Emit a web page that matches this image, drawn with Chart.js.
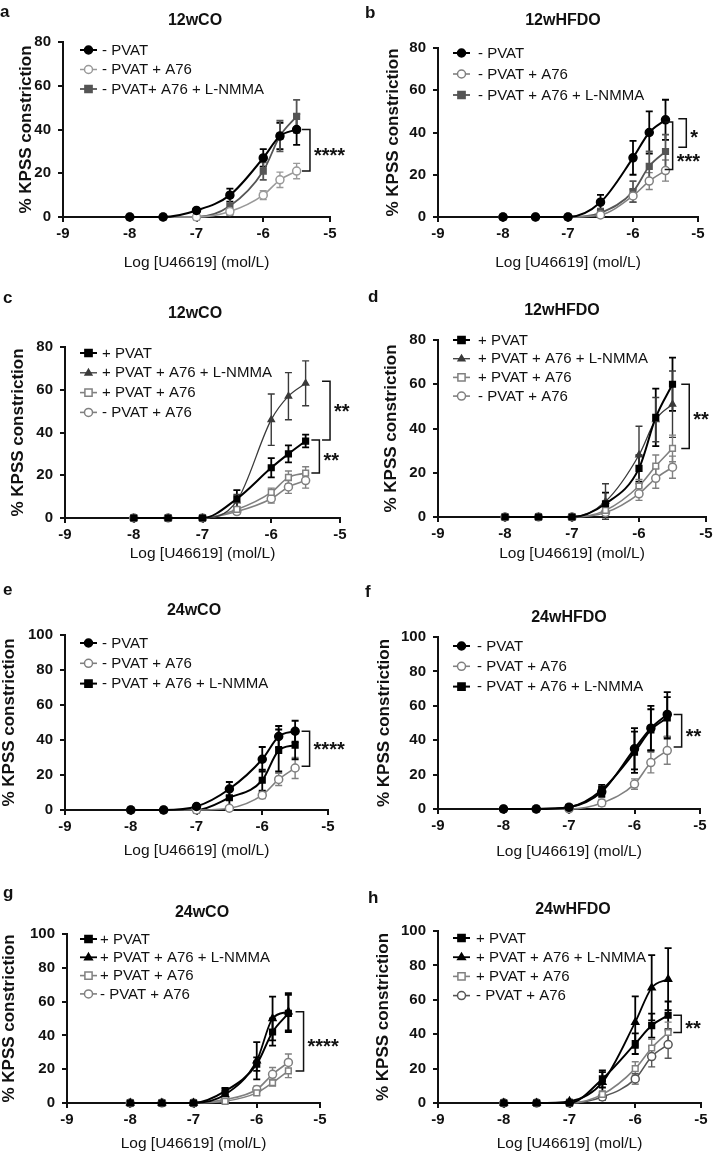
<!DOCTYPE html>
<html>
<head>
<meta charset="utf-8">
<title>U46619 concentration-response curves</title>
<script src="https://cdn.jsdelivr.net/npm/chart.js@4.4.1/dist/chart.umd.min.js"></script>
<style>
  html, body { margin: 0; padding: 0; background: #fff; }
  #figure { position: relative; width: 716px; height: 1157px; overflow: hidden; }
  #figure canvas { position: absolute; }
</style>
</head>
<body>
<div id="figure">
  <canvas id="panelA" width="358" height="290" style="left:0px;top:0px"></canvas>
  <canvas id="panelB" width="358" height="290" style="left:358px;top:0px"></canvas>
  <canvas id="panelC" width="358" height="290" style="left:0px;top:290px"></canvas>
  <canvas id="panelD" width="358" height="290" style="left:358px;top:290px"></canvas>
  <canvas id="panelE" width="358" height="290" style="left:0px;top:580px"></canvas>
  <canvas id="panelF" width="358" height="290" style="left:358px;top:580px"></canvas>
  <canvas id="panelG" width="358" height="287" style="left:0px;top:870px"></canvas>
  <canvas id="panelH" width="358" height="287" style="left:358px;top:870px"></canvas>
</div>
<script>
// values (% KPSS constriction, mean and SEM)
const doses = [-8, -7.5, -7, -6.5, -6, -5.75, -5.5];
const xTicks = [-9, -8, -7, -6, -5];
const yTicks80 = [0, 20, 40, 60, 80];
const yTicks100 = [0, 20, 40, 60, 80, 100];

const labelsA = ['- PVAT', '- PVAT + A76', '- PVAT+ A76 + L-NMMA'];
const labelsMinus = ['- PVAT', '- PVAT + A76', '- PVAT + A76 + L-NMMA'];
const labelsPlus = ['+ PVAT', '+ PVAT + A76 + L-NMMA', '+ PVAT + A76', '- PVAT + A76'];

// a - 12wCO
const aNoPvat = [0, 0, 3, 10, 27, 37, 40];
const aNoPvatErr = [0, 0, 1, 3, 4, 6, 7];
const aA76 = [0, 0, 0, 2.5, 10, 17, 21];
const aA76Err = [0, 0, 0, 1, 2, 3.5, 3.5];
const aLnmma = [0, 0, 0, 5, 21, 37, 46];
const aLnmmaErr = [0, 0, 0, 4, 4, 7, 7.5];

// b - 12wHFDO
const bNoPvat = [0, 0, 0, 7, 28, 40, 46];
const bNoPvatErr = [0, 0, 0, 3.5, 8, 10, 9.5];
const bA76 = [0, 0, 0, 1, 10, 17, 22];
const bA76Err = [0, 0, 0, 1, 3, 4, 5];
const bLnmma = [0, 0, 0, 2, 12, 24, 31];
const bLnmmaErr = [0, 0, 0, 2, 5, 7, 8];

// c - 12wCO
const cPvat = [0, 0, 0, 9, 23.5, 30, 36];
const cPvatErr = [0, 0, 0, 4, 4.5, 4, 3];
const cPvatLnmma = [0, 0, 0, 8, 46, 57, 63];
const cPvatLnmmaErr = [0, 0, 0, 3, 12, 11, 10.5];
const cPvatA76 = [0, 0, 0, 4, 12, 19, 21];
const cPvatA76Err = [0, 0, 0, 1, 2, 3, 3];
const cNoPvatA76 = [0, 0, 0, 3, 9, 14.5, 17.5];
const cNoPvatA76Err = [0, 0, 0, 1, 2, 3, 3.5];

// d - 12wHFDO
const dPvat = [0, 0, 0, 6, 22, 45, 60];
const dPvatErr = [0, 0, 0, 5, 6, 13, 12];
const dPvatLnmma = [0, 0, 0, 7, 28, 44, 51];
const dPvatLnmmaErr = [0, 0, 0, 8, 13, 10, 15];
const dPvatA76 = [0, 0, 0, 3, 14, 23, 31];
const dPvatA76Err = [0, 0, 0, 1, 3, 5, 6];
const dNoPvatA76 = [0, 0, 0, 2, 10.5, 17.5, 22.5];
const dNoPvatA76Err = [0, 0, 0, 1, 3, 4.5, 5];

// e - 24wCO
const eNoPvat = [0, 0, 2, 12, 29, 42, 45];
const eNoPvatErr = [0, 0, 1, 4, 7, 6, 6];
const eA76 = [0, 0, 0, 1, 8.5, 17.5, 24];
const eA76Err = [0, 0, 0, 1, 2, 3.5, 6];
const eLnmma = [0, 0, 0, 7, 17, 34, 37];
const eLnmmaErr = [0, 0, 0, 5, 6, 12, 8];

// f - 24wHFDO
const fNoPvat = [0, 0, 1, 10, 35, 47, 55];
const fNoPvatErr = [0, 0, 1, 3, 12, 13, 13];
const fA76 = [0, 0, 0, 3.5, 14.5, 27, 34];
const fA76Err = [0, 0, 0, 2, 3, 6, 8];
const fLnmma = [0, 0, 1, 11, 33, 46, 53];
const fLnmmaErr = [0, 0, 1, 3, 12, 12, 12];

// g - 24wCO
const gPvat = [0, 0, 0, 7, 23, 42, 53];
const gPvatErr = [0, 0, 0, 2, 4, 8, 11];
const gPvatLnmma = [0, 0, 0, 5, 25, 50, 54];
const gPvatLnmmaErr = [0, 0, 0, 2, 11, 13, 11];
const gPvatA76 = [0, 0, 0, 1, 6, 12, 19];
const gPvatA76Err = [0, 0, 0, 1, 1.5, 2, 4];
const gNoPvatA76 = [0, 0, 0, 2, 8, 17, 24];
const gNoPvatA76Err = [0, 0, 0, 1, 2, 4, 5];

// h - 24wHFDO
const hPvat = [0, 0, 0, 14, 34.5, 45, 51];
const hPvatErr = [0, 0, 0, 5, 6, 7, 8];
const hPvatLnmma = [0, 0, 1, 12, 47, 67, 72];
const hPvatLnmmaErr = [0, 0, 1, 6, 15, 19, 18];
const hPvatA76 = [0, 0, 0, 5, 20, 32, 41];
const hPvatA76Err = [0, 0, 0, 2, 4, 5, 6];
const hNoPvatA76 = [0, 0, 0, 3.5, 14, 27, 34];
const hNoPvatA76Err = [0, 0, 0, 2, 3, 6, 8];

// significance brackets (x in log units, top/bottom in %)
const bracketsA = [{ x: -5.3, top: 40, bottom: 21, text: '****', textY: 30 }];
const bracketsB = [
    { x: -5.18, top: 46.5, bottom: 33, text: '*', textY: 40 },
    { x: -5.39, top: 45, bottom: 22.5, text: '***', textY: 28.5 }
];
const bracketsC = [
    { x: -5.145, top: 64, bottom: 36.5, text: '**', textY: 52 },
    { x: -5.3, top: 36.5, bottom: 21, text: '**', textY: 29 }
];
const bracketsD = [{ x: -5.25, top: 60, bottom: 31, text: '**', textY: 46 }];
const bracketsE = [{ x: -5.28, top: 45, bottom: 25, text: '****', textY: 37 }];
const bracketsF = [{ x: -5.28, top: 55, bottom: 36, text: '**', textY: 45 }];
const bracketsG = [{ x: -5.26, top: 54, bottom: 19, text: '****', textY: 36 }];
const bracketsH = [{ x: -5.3, top: 51, bottom: 41, text: '**', textY: 46 }];

const FONT = 'Arial, "Liberation Sans", Helvetica, sans-serif';
Chart.defaults.font.family = FONT;
Chart.defaults.color = '#111';

// marker / line looks
const styles = {
    blackCircle: { color: '#000', fill: '#000', point: 'circle', radius: 4, width: 2 },
    blackSquare: { color: '#000', fill: '#000', point: 'rect', radius: 4, width: 2 },
    blackTriangle: { color: '#000', fill: '#000', point: 'triangle', radius: 4, width: 1.8 },
    darkTriangle: { color: '#3a3a3a', fill: '#3a3a3a', point: 'triangle', radius: 3.5, width: 1.3 },
    darkSquare: { color: '#555', fill: '#555', point: 'rect', radius: 4, width: 1.8 },
    lightOpenCircle: { color: '#999', fill: '#fff', point: 'circle', radius: 4, width: 1.5 },
    grayOpenCircle: { color: '#808080', fill: '#fff', point: 'circle', radius: 4, width: 1.6 },
    darkOpenCircle: { color: '#555', fill: '#fff', point: 'circle', radius: 4, width: 1.6 },
    grayOpenSquare: { color: '#808080', fill: '#fff', point: 'rect', radius: 4, width: 1.6 }
};

const panels = [
    {
        id: 'panelA', letter: 'a', title: '12wCO', yTicks: yTicks80, labels: labelsA, brackets: bracketsA,
        series: [[aNoPvat, aNoPvatErr, 'blackCircle'], [aA76, aA76Err, 'lightOpenCircle'], [aLnmma, aLnmmaErr, 'darkSquare']],
        box: { yw: 63, top: 42, right: 28, xh: 73, yPad: 17.5, xPad: 20 },
        letterAt: [0, 17], titleAt: [195, 21], legend: { x0: 80, x1: 97, tx: 102, y0: 50, dy: 19.5 }
    },
    {
        id: 'panelB', letter: 'b', title: '12wHFDO', yTicks: yTicks80, labels: labelsMinus, brackets: bracketsB,
        series: [[bNoPvat, bNoPvatErr, 'blackCircle'], [bA76, bA76Err, 'grayOpenCircle'], [bLnmma, bLnmmaErr, 'darkSquare']],
        box: { yw: 80, top: 48, right: 18, xh: 73, yPad: 26.5, xPad: 20 },
        letterAt: [7, 18], titleAt: [205, 21], legend: { x0: 95, x1: 112, tx: 120, y0: 53, dy: 21 }
    },
    {
        id: 'panelC', letter: 'c', title: '12wCO', yTicks: yTicks80, labels: labelsPlus, brackets: bracketsC,
        series: [[cPvat, cPvatErr, 'blackSquare'], [cPvatLnmma, cPvatLnmmaErr, 'darkTriangle'],
                 [cPvatA76, cPvatA76Err, 'grayOpenSquare'], [cNoPvatA76, cNoPvatA76Err, 'grayOpenCircle']],
        box: { yw: 65, top: 57, right: 18, xh: 62, yPad: 9.5, xPad: 19 },
        letterAt: [3, 13], titleAt: [195, 24], legend: { x0: 80, x1: 97, tx: 102, y0: 63, dy: 19.8 }
    },
    {
        id: 'panelD', letter: 'd', title: '12wHFDO', yTicks: yTicks80, labels: labelsPlus, brackets: bracketsD,
        series: [[dPvat, dPvatErr, 'blackSquare'], [dPvatLnmma, dPvatLnmmaErr, 'darkTriangle'],
                 [dPvatA76, dPvatA76Err, 'grayOpenSquare'], [dNoPvatA76, dNoPvatA76Err, 'grayOpenCircle']],
        box: { yw: 80, top: 50, right: 10, xh: 63, yPad: 24.5, xPad: 19 },
        letterAt: [10, 12], titleAt: [204, 21], legend: { x0: 95, x1: 112, tx: 120, y0: 50, dy: 18.7 }
    },
    {
        id: 'panelE', letter: 'e', title: '24wCO', yTicks: yTicks100, labels: labelsMinus, brackets: bracketsE,
        series: [[eNoPvat, eNoPvatErr, 'blackCircle'], [eA76, eA76Err, 'grayOpenCircle'], [eLnmma, eLnmmaErr, 'blackSquare']],
        box: { yw: 65, top: 55, right: 30, xh: 60, yPad: 0.5, xPad: 12 },
        letterAt: [3, 15], titleAt: [194, 31], legend: { x0: 80, x1: 97, tx: 102, y0: 63, dy: 20.3 }
    },
    {
        id: 'panelF', letter: 'f', title: '24wHFDO', yTicks: yTicks100, labels: labelsMinus, brackets: bracketsF,
        series: [[fNoPvat, fNoPvatErr, 'blackCircle'], [fA76, fA76Err, 'grayOpenCircle'], [fLnmma, fLnmmaErr, 'blackSquare']],
        box: { yw: 80, top: 57, right: 16, xh: 61, yPad: 17.5, xPad: 11 },
        letterAt: [7, 17], titleAt: [211, 38], legend: { x0: 95, x1: 112, tx: 119, y0: 66, dy: 20.3 }
    },
    {
        id: 'panelG', letter: 'g', title: '24wCO', yTicks: yTicks100, labels: labelsPlus, brackets: bracketsG,
        series: [[gPvat, gPvatErr, 'blackSquare'], [gPvatLnmma, gPvatLnmmaErr, 'blackTriangle'],
                 [gPvatA76, gPvatA76Err, 'grayOpenSquare'], [gNoPvatA76, gNoPvatA76Err, 'grayOpenCircle']],
        box: { yw: 67, top: 64, right: 38, xh: 54, yPad: 0.5, xPad: 6 },
        letterAt: [3, 28], titleAt: [202, 43], legend: { x0: 80, x1: 97, tx: 100, y0: 69, dy: 18.3 }
    },
    {
        id: 'panelH', letter: 'h', title: '24wHFDO', yTicks: yTicks100, labels: labelsPlus, brackets: bracketsH,
        series: [[hPvat, hPvatErr, 'blackSquare'], [hPvatLnmma, hPvatLnmmaErr, 'blackTriangle'],
                 [hPvatA76, hPvatA76Err, 'grayOpenSquare'], [hNoPvatA76, hNoPvatA76Err, 'darkOpenCircle']],
        box: { yw: 80, top: 61, right: 15, xh: 54, yPad: 16.5, xPad: 6 },
        letterAt: [10, 33], titleAt: [215, 40], legend: { x0: 95, x1: 112, tx: 118, y0: 68, dy: 19.2 }
    }
];

function drawMarker(ctx, st, x, y) {
    ctx.save();
    ctx.fillStyle = st.fill;
    ctx.strokeStyle = st.color;
    ctx.lineWidth = 1.5;
    ctx.beginPath();
    const r = st.radius;
    if (st.point === 'circle') {
        ctx.arc(x, y, r, 0, Math.PI * 2);
    } else if (st.point === 'rect') {
        ctx.rect(x - r * 0.9, y - r * 0.9, r * 1.8, r * 1.8);
    } else {
        ctx.moveTo(x, y - r);
        ctx.lineTo(x + r * 0.95, y + r * 0.6);
        ctx.lineTo(x - r * 0.95, y + r * 0.6);
        ctx.closePath();
    }
    ctx.fill();
    ctx.stroke();
    ctx.restore();
}

// vertical SEM bars with caps, drawn under the curves
const errorBars = {
    id: 'errorBars',
    beforeDatasetsDraw(chart) {
        const ctx = chart.ctx;
        const yScale = chart.scales.y;
        chart.data.datasets.forEach((ds, i) => {
            const meta = chart.getDatasetMeta(i);
            ctx.save();
            ctx.strokeStyle = ds.borderColor;
            ctx.lineWidth = ds.borderWidth >= 1.8 ? 1.8 : 1.4;
            meta.data.forEach((pt, j) => {
                const e = ds.errors[j];
                if (!e) return;
                const v = ds.data[j].y;
                const top = yScale.getPixelForValue(v + e);
                const bot = yScale.getPixelForValue(v - e);
                ctx.beginPath();
                ctx.moveTo(pt.x, top);
                ctx.lineTo(pt.x, bot);
                ctx.moveTo(pt.x - 3.5, top);
                ctx.lineTo(pt.x + 3.5, top);
                ctx.moveTo(pt.x - 3.5, bot);
                ctx.lineTo(pt.x + 3.5, bot);
                ctx.stroke();
            });
            ctx.restore();
        });
    }
};

function panelDecor(p) {
    return {
        id: 'panelDecor',
        afterDraw(chart) {
            const ctx = chart.ctx;
            const xs = chart.scales.x, ys = chart.scales.y;
            ctx.save();
            ctx.fillStyle = '#111';

            // panel letter and title
            ctx.font = 'bold 17px ' + FONT;
            ctx.textAlign = 'left';
            ctx.textBaseline = 'alphabetic';
            ctx.fillText(p.letter, p.letterAt[0], p.letterAt[1]);
            ctx.font = 'bold 16px ' + FONT;
            ctx.textAlign = 'center';
            ctx.textBaseline = 'middle';
            ctx.fillText(p.title, p.titleAt[0], p.titleAt[1]);

            // legend
            const lg = p.legend;
            ctx.font = '15px ' + FONT;
            ctx.textAlign = 'left';
            p.series.forEach((s, i) => {
                const st = styles[s[2]];
                const y = lg.y0 + i * lg.dy;
                ctx.strokeStyle = st.color;
                ctx.lineWidth = st.width;
                ctx.beginPath();
                ctx.moveTo(lg.x0, y);
                ctx.lineTo(lg.x1, y);
                ctx.stroke();
                drawMarker(ctx, st, (lg.x0 + lg.x1) / 2, y);
                ctx.fillStyle = '#111';
                ctx.fillText(p.labels[i], lg.tx, y + 0.5);
            });

            // brackets + asterisks
            ctx.strokeStyle = '#111';
            ctx.lineWidth = 1.5;
            ctx.font = 'bold 20px ' + FONT;
            ctx.textBaseline = 'alphabetic';
            p.brackets.forEach(b => {
                const px = xs.getPixelForValue(b.x);
                const y1 = ys.getPixelForValue(b.top);
                const y2 = ys.getPixelForValue(b.bottom);
                ctx.beginPath();
                ctx.moveTo(px - 8, y1);
                ctx.lineTo(px, y1);
                ctx.lineTo(px, y2);
                ctx.lineTo(px - 8, y2);
                ctx.stroke();
                ctx.fillText(b.text, px + 4, ys.getPixelForValue(b.textY) + 11);
            });
            ctx.restore();
        }
    };
}

function createPanel(p) {
    const ctx = document.getElementById(p.id).getContext('2d');
    const datasets = p.series.map((s, i) => {
        const st = styles[s[2]];
        return {
            label: p.labels[i],
            data: doses.map((d, k) => ({ x: d, y: s[0][k] })),
            errors: s[1],
            borderColor: st.color,
            backgroundColor: st.fill,
            borderWidth: st.width,
            pointStyle: st.point,
            pointRadius: st.radius,
            pointBackgroundColor: st.fill,
            pointBorderColor: st.color,
            pointBorderWidth: 1.5,
            cubicInterpolationMode: 'monotone',
            fill: false,
            clip: false
        };
    });

    new Chart(ctx, {
        type: 'line',
        data: { datasets: datasets },
        options: {
            responsive: false,
            animation: false,
            events: [],
            layout: { padding: { left: 0, top: p.box.top, right: p.box.right, bottom: 0 } },
            plugins: {
                legend: { display: false },
                title: { display: false },
                tooltip: { enabled: false }
            },
            scales: {
                x: {
                    type: 'linear',
                    min: xTicks[0],
                    max: xTicks[xTicks.length - 1],
                    afterBuildTicks: (scale) => { scale.ticks = xTicks.map(v => ({ value: v })); },
                    afterFit: (scale) => { scale.height = p.box.xh; },
                    ticks: { autoSkip: false, maxRotation: 0, padding: 3, color: '#111',
                             font: { size: 15, weight: 'bold' } },
                    grid: { drawOnChartArea: false, drawTicks: true, tickLength: 5, color: '#111', lineWidth: 2 },
                    border: { display: true, color: '#111', width: 2 },
                    title: { display: true, text: 'Log [U46619] (mol/L)', color: '#111',
                             font: { size: 15.5, lineHeight: 1 }, padding: { top: 0, bottom: p.box.xPad } }
                },
                y: {
                    min: 0,
                    max: p.yTicks[p.yTicks.length - 1],
                    afterBuildTicks: (scale) => { scale.ticks = p.yTicks.map(v => ({ value: v })); },
                    afterFit: (scale) => { scale.width = p.box.yw; },
                    ticks: { padding: 7, color: '#111', font: { size: 15, weight: 'bold' } },
                    grid: { drawOnChartArea: false, drawTicks: true, tickLength: 5, color: '#111', lineWidth: 2 },
                    border: { display: true, color: '#111', width: 2 },
                    title: { display: true, text: '% KPSS constriction', color: '#111',
                             font: { size: 17, weight: 'bold', lineHeight: 1 }, padding: { top: p.box.yPad, bottom: 0 } }
                }
            }
        },
        plugins: [errorBars, panelDecor(p)]
    });
}

document.addEventListener('DOMContentLoaded', () => {
    panels.forEach(createPanel);
});
</script>
</body>
</html>
